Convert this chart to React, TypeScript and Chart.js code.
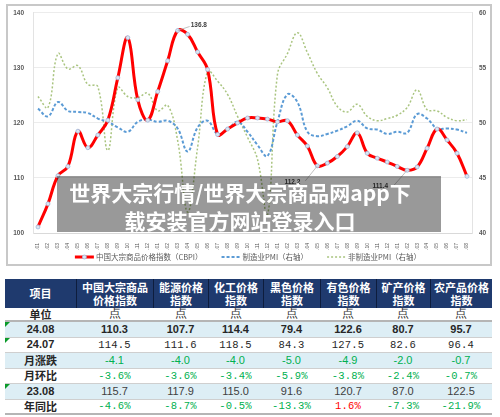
import React, { useEffect, useRef } from "react";
import { Chart, registerables } from "chart.js";

Chart.register(...registerables);

const months = [
  "21.01", "21.02", "21.03", "21.04", "21.05", "21.06", "21.07", "21.08", "21.09", "21.10", "21.11", "21.12",
  "22.01", "22.02", "22.03", "22.04", "22.05", "22.06", "22.07", "22.08", "22.09", "22.10", "22.11", "22.12",
  "23.01", "23.02", "23.03", "23.04", "23.05", "23.06", "23.07", "23.08", "23.09", "23.10", "23.11", "23.12",
  "24.01", "24.02", "24.03", "24.04", "24.05", "24.06", "24.07", "24.08",
];

const cbpi = [
  101.1, 105.3, 110.4, 112.1, 118.5, 115.5, 117.8, 120.5, 128.2, 135.5, 124.2, 120.5,
  125.7, 131.3, 136.8, 136.1, 132.9, 129.7, 117.9, 118.9, 120.0, 120.9, 120.9, 120.7,
  120.2, 120.4, 117.8, 115.8, 112.2, 112.7, 113.9, 115.7, 118.2, 114.5, 113.6, 112.9,
  112.1, 111.4, 112.0, 115.4, 118.9, 116.9, 114.5, 110.3,
];

const mfgPmi = [
  51.3, 50.6, 51.9, 51.1, 51.0, 50.9, 50.4, 50.1, 49.6, 49.2, 50.1, 50.3,
  50.1, 50.2, 49.5, 47.4, 49.6, 50.2, 49.0, 49.4, 50.1, 49.2, 48.0, 47.0,
  50.1, 52.6, 51.9, 49.2, 48.8, 49.0, 49.3, 49.7, 50.2, 49.5, 49.4, 49.0,
  49.2, 49.1, 50.8, 50.4, 49.5, 49.5, 49.4, 49.1,
];

const nonMfgPmi = [
  52.4, 51.4, 56.3, 54.9, 55.2, 53.5, 53.3, 47.5, 53.2, 52.4, 52.3, 52.7,
  51.1, 51.6, 48.4, 41.9, 47.8, 54.7, 53.8, 52.6, 50.6, 48.7, 46.7, 41.6,
  54.4, 56.3, 58.2, 56.4, 54.5, 53.2, 51.5, 51.0, 51.7, 50.6, 50.2, 50.4,
  50.7, 51.4, 53.0, 51.2, 51.1, 50.5, 50.2, 50.3,
];

const seriesNames = ["中国大宗商品价格指数（CBPI）", "制造业PMI（右轴）", "非制造业PMI（右轴）"];
const labeledIdx = [14, 28, 37];

const overlayLines = ["世界大宗行情/世界大宗商品网app下", "载安装官方网站登录入口"];

const tableHeaders = [
  ["项目"],
  ["中国大宗商品", "价格指数"],
  ["能源价格", "指数"],
  ["化工价格", "指数"],
  ["黑色价格", "指数"],
  ["有色价格", "指数"],
  ["矿产价格", "指数"],
  ["农产品价格", "指数"],
];
const unitRow = ["单位", "点", "点", "点", "点", "点", "点", "点"];
const rowCur = ["24.08", "110.3", "107.7", "114.4", "79.4", "122.6", "80.7", "95.7"];
const rowPrev = ["24.07", "114.5", "111.6", "118.5", "84.3", "127.5", "82.6", "96.4"];
const rowMoM = ["月涨跌", "-4.1", "-4.0", "-4.0", "-5.0", "-4.9", "-2.0", "-0.7"];
const rowMoMPct = ["月环比", "-3.6%", "-3.6%", "-3.4%", "-5.9%", "-3.8%", "-2.4%", "-0.7%"];
const rowYearAgo = ["23.08", "115.7", "117.9", "115.0", "91.6", "120.7", "87.0", "122.5"];
const rowYoY = ["年同比", "-4.6%", "-8.7%", "-0.5%", "-13.3%", "1.6%", "-7.3%", "-21.9%"];

const colWidths = [71, 77, 55, 55, 57, 56, 54, 62];

const legendPlugin = {
  id: "customLegend",
  afterDraw(chart: any) {
    const ctx = chart.ctx;
    ctx.save();
    ctx.font = '7.5px "Noto Sans CJK SC"';
    const items = chart.data.datasets.map((ds: any) => ({
      label: ds.label,
      color: ds.borderColor,
      dash: ds.borderDash || [],
      width: ds.borderWidth,
      marker: ds.pointRadius > 0,
    }));
    const lineLen = 19;
    const gap = 2;
    const itemGap = 19;
    const widths = items.map((it: any) => lineLen + gap + ctx.measureText(it.label).width);
    const total = widths.reduce((a: number, b: number) => a + b, 0) + itemGap * (items.length - 1);
    let x = chart.width / 2 - 2 - total / 2;
    const y = 257;
    items.forEach((it: any, i: number) => {
      ctx.beginPath();
      ctx.setLineDash(it.dash);
      ctx.strokeStyle = it.color;
      ctx.lineWidth = it.width;
      ctx.moveTo(x, y);
      ctx.lineTo(x + lineLen, y);
      ctx.stroke();
      ctx.setLineDash([]);
      if (it.marker) {
        ctx.beginPath();
        ctx.arc(x + lineLen / 2, y, 2, 0, Math.PI * 2);
        ctx.fillStyle = "#dce6f2";
        ctx.fill();
        ctx.strokeStyle = "#9db9dc";
        ctx.lineWidth = 0.8;
        ctx.stroke();
      }
      ctx.fillStyle = "#595959";
      ctx.textBaseline = "middle";
      ctx.textAlign = "left";
      ctx.fillText(it.label, x + lineLen + gap, y + 0.5);
      x += widths[i] + itemGap;
    });
    ctx.restore();
  },
};

const annoOffsets = [
  { lx: 12, ly: -4, tx: 13, ty: -5, align: "left" },
  { lx: -12, ly: 15, tx: -17, ty: 16, align: "right" },
  { lx: -14, ly: 16, tx: -19, ty: 16, align: "right" },
];

const annotationPlugin = {
  id: "pointLabels",
  afterDatasetsDraw(chart: any) {
    const ctx = chart.ctx;
    const meta = chart.getDatasetMeta(0);
    ctx.save();
    labeledIdx.forEach((idx, i) => {
      const pt = meta.data[idx];
      const o = annoOffsets[i];
      ctx.beginPath();
      ctx.strokeStyle = "#a6a6a6";
      ctx.lineWidth = 0.7;
      ctx.moveTo(pt.x, pt.y);
      ctx.lineTo(pt.x + o.lx, pt.y + o.ly);
      ctx.stroke();
      ctx.font = 'bold 6.5px "Liberation Sans"';
      ctx.fillStyle = "#404040";
      ctx.textAlign = o.align;
      ctx.textBaseline = "middle";
      ctx.fillText(cbpi[idx].toFixed(1), pt.x + o.tx, pt.y + o.ty);
    });
    ctx.restore();
  },
};

function ChartBox() {
  const ref = useRef<HTMLCanvasElement | null>(null);
  useEffect(() => {
    if (!ref.current) return;
    const tickFont = { family: '"Liberation Sans"', size: 6.5, weight: "bold" as const };
    const chart = new Chart(ref.current, {
      type: "line",
      data: {
        labels: months,
        datasets: [
          {
            label: seriesNames[0],
            data: cbpi,
            yAxisID: "y",
            borderColor: "#ff0000",
            borderWidth: 3,
            pointRadius: 2,
            pointBackgroundColor: "#dce6f2",
            pointBorderColor: "#9db9dc",
            pointBorderWidth: 0.8,
            tension: 0.4,
            order: 0,
          },
          {
            label: seriesNames[1],
            data: mfgPmi,
            yAxisID: "y1",
            borderColor: "#5b9bd5",
            borderWidth: 2,
            borderDash: [3, 2],
            pointRadius: 0,
            tension: 0.4,
            order: 1,
          },
          {
            label: seriesNames[2],
            data: nonMfgPmi,
            yAxisID: "y1",
            borderColor: "#a9c47f",
            borderWidth: 1.5,
            borderDash: [2, 2],
            pointRadius: 0,
            tension: 0.4,
            order: 2,
          },
        ],
      },
      options: {
        animation: false,
        responsive: false,
        layout: { padding: { top: 9, bottom: 18, left: 0, right: 0 } },
        plugins: { legend: { display: false }, tooltip: { enabled: false } },
        scales: {
          x: {
            offset: true,
            grid: { display: false },
            border: { display: true, color: "#d9d9d9" },
            ticks: {
              autoSkip: false,
              minRotation: 90,
              maxRotation: 90,
              padding: 2,
              font: { family: '"Liberation Sans"', size: 5 },
              color: "#595959",
            },
            afterFit: (s: any) => {
              s.height = 17;
            },
          },
          y: {
            position: "left",
            min: 100,
            max: 140,
            ticks: { stepSize: 10, padding: 9, font: tickFont, color: "#595959" },
            grid: { color: "#ececec", drawTicks: false },
            border: { display: true, color: "#e3e3e3" },
            afterFit: (s: any) => {
              s.width = 33;
            },
          },
          y1: {
            position: "right",
            min: 40,
            max: 60,
            ticks: { stepSize: 5, padding: 7, font: tickFont, color: "#595959" },
            grid: { drawOnChartArea: false, drawTicks: false },
            border: { display: true, color: "#e3e3e3" },
            afterFit: (s: any) => {
              s.width = 28;
            },
          },
        },
      },
      plugins: [annotationPlugin, legendPlugin],
    });
    return () => chart.destroy();
  }, []);
  return <canvas ref={ref} width={500} height={268} style={{ position: "absolute", left: 0, top: 0, width: 500, height: 268 }} />;
}

const green = "#00b050";

function Triangle() {
  return (
    <div
      style={{
        position: "absolute",
        left: 0,
        top: 0,
        width: 0,
        height: 0,
        borderTop: "5px solid #0a9a2a",
        borderRight: "5px solid transparent",
      }}
    />
  );
}

type RowStyle = {
  bg: string;
  height: number;
  font: string;
  size: number;
  weight: number;
  color: (v: string, i: number) => string;
  border: string;
  tri?: boolean;
  spacing?: number;
};

function BodyRow({ cells, st }: { cells: string[]; st: RowStyle }) {
  return (
    <div
      style={{
        display: "flex",
        height: st.height,
        background: st.bg,
        borderBottom: st.border,
        boxSizing: "border-box",
      }}
    >
      {cells.map((c, i) => (
        <div
          key={i}
          style={{
            position: "relative",
            width: colWidths[i],
            flex: "none",
            display: "flex",
            alignItems: "center",
            justifyContent: "center",
            overflow: "visible",
            fontFamily: i === 0 ? (/\d/.test(c) ? '"Liberation Sans"' : '"Noto Sans CJK SC"') : st.font,
            fontSize: i === 0 ? 11 : st.size,
            fontWeight: i === 0 ? 700 : st.weight,
            color: i === 0 ? "#262626" : st.color(c, i),
            letterSpacing: i === 0 ? 0 : st.spacing || 0,
            lineHeight: 1,
            whiteSpace: "nowrap",
          }}
        >
          {i === 0 && st.tri ? <Triangle /> : null}
          {c}
        </div>
      ))}
    </div>
  );
}

function DataTable() {
  const light = "#ddeef5";
  const thin = "1px solid #cfcfcf";
  const dark = "#262626";
  const mono = '"Liberation Mono"';
  const sans = '"Liberation Sans"';
  const signColor = (v: string) => (v.startsWith("-") ? green : "#ff0000");
  return (
    <div style={{ position: "absolute", left: 5, top: 279, width: 487 }}>
      <div style={{ display: "flex", height: 29, background: "#1f3a6e" }}>
        {tableHeaders.map((h, i) => (
          <div
            key={i}
            style={{
              width: colWidths[i],
              flex: "none",
              boxSizing: "border-box",
              display: "flex",
              flexDirection: "column",
              justifyContent: "center",
              alignItems: "center",
              color: "#ffffff",
              fontFamily: '"Noto Sans CJK SC"',
              fontWeight: 700,
              fontSize: 11,
              lineHeight: "13px",
              borderLeft: i === 0 ? "none" : "1px solid #0e1d3d",
              whiteSpace: "nowrap",
            }}
          >
            {h.map((t, j) => (
              <div key={j}>{t}</div>
            ))}
          </div>
        ))}
      </div>
      <BodyRow
        cells={unitRow}
        st={{ bg: "#ffffff", height: 14, font: "serif", size: 11.5, weight: 400, color: () => "#333333", border: "2px solid #b5b5b5" }}
      />
      <BodyRow
        cells={rowCur}
        st={{ bg: light, height: 15.5, font: sans, size: 11, weight: 700, color: () => dark, border: thin, tri: true }}
      />
      <BodyRow
        cells={rowPrev}
        st={{ bg: "#ffffff", height: 15.5, font: mono, size: 10.5, weight: 400, color: () => dark, border: thin, tri: true, spacing: 0.2 }}
      />
      <BodyRow
        cells={rowMoM}
        st={{ bg: light, height: 15.5, font: sans, size: 11, weight: 400, color: () => green, border: thin }}
      />
      <BodyRow
        cells={rowMoMPct}
        st={{ bg: "#ffffff", height: 15.5, font: mono, size: 10.5, weight: 400, color: () => green, border: thin, spacing: 0.2 }}
      />
      <BodyRow
        cells={rowYearAgo}
        st={{ bg: light, height: 15.5, font: sans, size: 11, weight: 400, color: () => "#404040", border: thin, tri: true }}
      />
      <BodyRow
        cells={rowYoY}
        st={{ bg: "#ffffff", height: 15.5, font: mono, size: 10.5, weight: 400, color: (v) => signColor(v), border: "2px solid #b5b5b5", spacing: 0.2 }}
      />
    </div>
  );
}

export default function App() {
  return (
    <div style={{ position: "absolute", left: 0, top: 0, width: 500, height: 417, background: "#ffffff", overflow: "hidden" }}>
      <ChartBox />
      <div
        style={{
          position: "absolute",
          left: 6,
          top: 4,
          width: 486,
          height: 262,
          boxSizing: "border-box",
          border: "2px solid #c8c8c8",
          pointerEvents: "none",
        }}
      />
      <div
        style={{
          position: "absolute",
          left: 57,
          top: 176,
          width: 384,
          height: 56,
          background: "rgba(0,0,0,0.4)",
        }}
      />
      <div
        style={{
          position: "absolute",
          left: 57,
          top: 178,
          width: 366,
          textAlign: "center",
          color: "#ffffff",
          fontFamily: '"Noto Sans CJK SC"',
          fontWeight: 700,
          fontSize: 21,
          lineHeight: "28px",
          whiteSpace: "nowrap",
        }}
      >
        {overlayLines.map((l, i) => (
          <div key={i}>{l}</div>
        ))}
      </div>
      <DataTable />
    </div>
  );
}
